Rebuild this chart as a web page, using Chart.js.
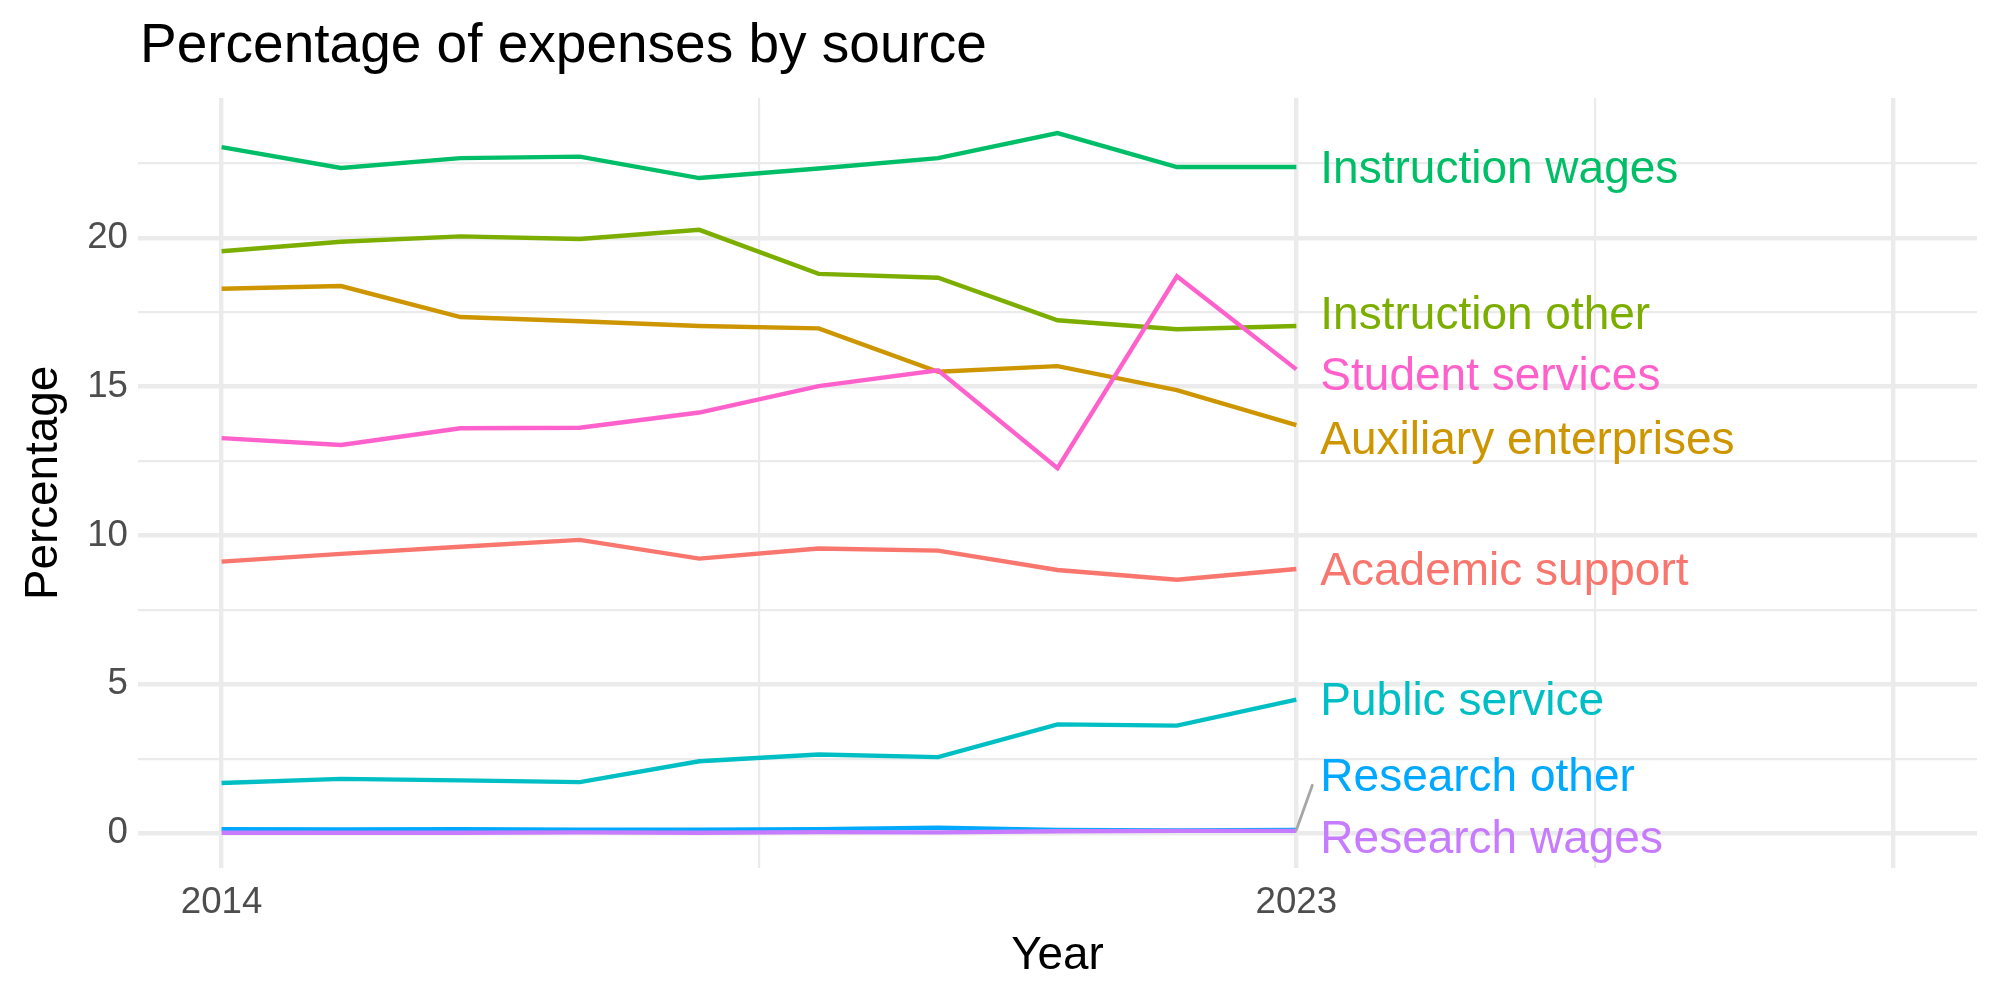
<!DOCTYPE html>
<html>
<head>
<meta charset="utf-8">
<title>Percentage of expenses by source</title>
<script src="https://cdn.jsdelivr.net/npm/chart.js@4.4.1/dist/chart.umd.min.js"></script>
<style>
  html, body { margin: 0; padding: 0; background: #fff; }
</style>
</head>
<body>
<canvas id="chart" width="2000" height="1000"></canvas>
<script>
// Anos e séries
const years = [2014, 2015, 2016, 2017, 2018, 2019, 2020, 2021, 2022, 2023];

const academicSupport      = [9.12, 9.38, 9.62, 9.85, 9.22, 9.56, 9.49, 8.84, 8.51, 8.87];
const auxiliaryEnterprises = [18.29, 18.38, 17.34, 17.20, 17.04, 16.96, 15.50, 15.69, 14.88, 13.71];
const instructionOther     = [19.55, 19.87, 20.05, 19.96, 20.27, 18.79, 18.66, 17.23, 16.93, 17.04];
const instructionWages     = [23.05, 22.35, 22.68, 22.73, 22.01, 22.33, 22.68, 23.52, 22.38, 22.38];
const publicService        = [1.68, 1.82, 1.77, 1.71, 2.41, 2.64, 2.55, 3.65, 3.61, 4.48];
const researchOther        = [0.13, 0.12, 0.13, 0.11, 0.11, 0.13, 0.18, 0.10, 0.09, 0.10];
const researchWages        = [0.01, 0.01, 0.01, 0.02, 0.01, 0.03, 0.02, 0.06, 0.07, 0.07];
const studentServices      = [13.27, 13.04, 13.60, 13.62, 14.13, 15.02, 15.55, 12.26, 18.71, 15.58];

const seriesNames = ['Academic support', 'Auxiliary enterprises', 'Instruction other', 'Instruction wages',
                     'Public service', 'Research other', 'Research wages', 'Student services'];
const seriesValues = [academicSupport, auxiliaryEnterprises, instructionOther, instructionWages,
                      publicService, researchOther, researchWages, studentServices];
const seriesColors = ['#F8766D', '#CD9600', '#7CAE00', '#00BE67', '#00BFC4', '#00A9FF', '#C77CFF', '#FF61CC'];

// Onde o repel deixou cada rótulo (em unidades do eixo y)
const labelY = [8.85, 13.26, 17.47, 22.37, 4.48, 1.94, -0.13, 15.40];

// Eixos
const yTicks = [0, 5, 10, 15, 20];
const yMinor = [2.5, 7.5, 12.5, 17.5, 22.5];
const xTicks = [2014, 2023, 2028];
const xTickLabels = ['2014', '2023', ''];
const xMinor = [2018.5, 2025.5];

const FONT = '"Liberation Sans", Arial, Helvetica, sans-serif';
const GRID = '#EBEBEB';

// Textos: título, títulos dos eixos e rótulos no fim das linhas
const textLayer = {
    id: 'textLayer',
    afterDraw(chart) {
        const ctx = chart.ctx;
        const x = chart.scales.x;
        const y = chart.scales.y;
        const area = chart.chartArea;

        ctx.save();
        ctx.fillStyle = '#000';
        ctx.textBaseline = 'alphabetic';
        ctx.textAlign = 'left';
        ctx.font = `55px ${FONT}`;
        ctx.fillText('Percentage of expenses by source', area.left + 2, 62);

        ctx.font = `45.8px ${FONT}`;
        ctx.textAlign = 'center';
        ctx.fillText('Year', (area.left + area.right) / 2, 969);

        ctx.save();
        ctx.translate(57, (area.top + area.bottom) / 2);
        ctx.rotate(-Math.PI / 2);
        ctx.fillText('Percentage', 0, 0);
        ctx.restore();

        const lastYear = years[years.length - 1];
        const x0 = x.getPixelForValue(lastYear);
        const lx = x0 + 24;

        // segmento do rótulo "Research other"
        const ro = seriesNames.indexOf('Research other');
        ctx.strokeStyle = '#A6A6A6';
        ctx.lineWidth = 2.8;
        ctx.lineCap = 'round';
        ctx.beginPath();
        ctx.moveTo(x0, y.getPixelForValue(researchOther[researchOther.length - 1]));
        ctx.lineTo(lx - 8, y.getPixelForValue(labelY[ro]) + 10);
        ctx.stroke();

        ctx.font = `46px ${FONT}`;
        ctx.textAlign = 'left';
        ctx.textBaseline = 'middle';
        seriesNames.forEach((name, i) => {
            ctx.fillStyle = seriesColors[i];
            ctx.fillText(name, lx, y.getPixelForValue(labelY[i]) + 3);
        });
        ctx.restore();
    }
};

const datasets = seriesNames.map((name, i) => ({
    label: name,
    data: years.map((yr, k) => ({ x: yr, y: seriesValues[i][k] })),
    borderColor: seriesColors[i],
    backgroundColor: seriesColors[i],
    borderWidth: 4.4,
    pointRadius: 0,
    tension: 0,
    fill: false,
    order: -i
}));

new Chart(document.getElementById('chart'), {
    type: 'line',
    data: { datasets },
    plugins: [textLayer],
    options: {
        responsive: false,
        animation: false,
        layout: { padding: { left: 0, top: 98, right: 23, bottom: 0 } },
        plugins: {
            legend: { display: false },
            tooltip: { enabled: false },
            title: { display: false }
        },
        scales: {
            x: {
                type: 'linear',
                min: 2013.3,
                max: 2028.7,
                border: { display: false },
                afterBuildTicks: (scale) => {
                    scale.ticks = [...xTicks, ...xMinor].sort((a, b) => a - b).map(v => ({ value: v }));
                },
                afterFit: (scale) => { scale.height = 132; },
                grid: {
                    color: GRID,
                    drawTicks: false,
                    lineWidth: (c) => (c.tick && xTicks.includes(c.tick.value)) ? 4.4 : 2.2
                },
                ticks: {
                    autoSkip: false,
                    maxRotation: 0,
                    padding: 13,
                    color: '#4D4D4D',
                    font: { family: FONT, size: 36.7 },
                    callback: (v) => {
                        const k = xTicks.indexOf(v);
                        return k >= 0 ? xTickLabels[k] : '';
                    }
                }
            },
            y: {
                type: 'linear',
                min: -1.176,
                max: 24.70,
                border: { display: false },
                afterBuildTicks: (scale) => {
                    scale.ticks = [...yTicks, ...yMinor].sort((a, b) => a - b).map(v => ({ value: v }));
                },
                afterFit: (scale) => { scale.width = 138; },
                grid: {
                    color: GRID,
                    drawTicks: false,
                    lineWidth: (c) => (c.tick && yTicks.includes(c.tick.value)) ? 4.4 : 2.2
                },
                ticks: {
                    autoSkip: false,
                    padding: 10,
                    color: '#4D4D4D',
                    font: { family: FONT, size: 36.7 },
                    callback: (v) => yTicks.includes(v) ? String(v) : ''
                }
            }
        }
    }
});
</script>
</body>
</html>
